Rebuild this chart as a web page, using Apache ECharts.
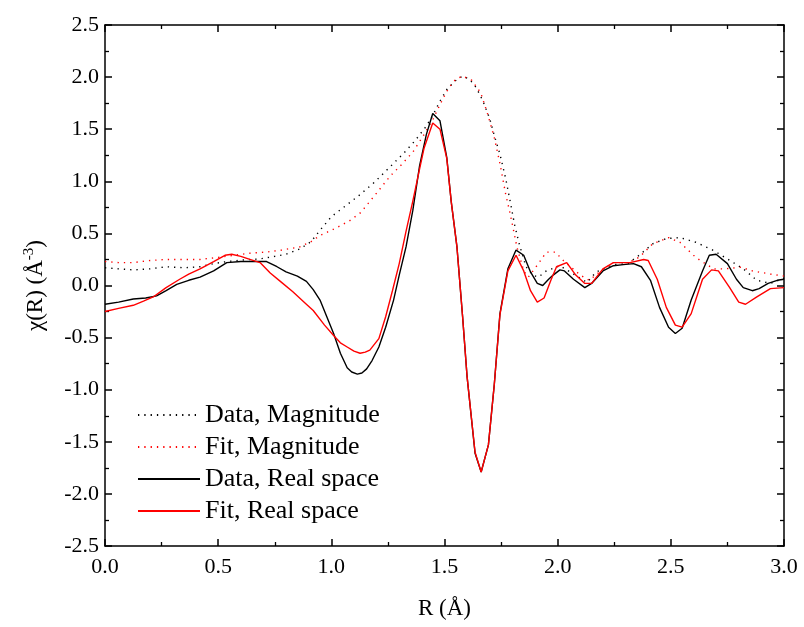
<!DOCTYPE html>
<html><head><meta charset="utf-8">
<script src="https://cdn.jsdelivr.net/npm/echarts@6/dist/echarts.min.js"></script>
<style>html,body{margin:0;padding:0;background:#fff}#c{width:804px;height:627px}</style>
</head><body><div id="c"></div>
<script>
// Data, Magnitude
const dataMagR = [0,0.06,0.125,0.2,0.27,0.35,0.42,0.48,0.54,0.61,0.685,0.75,0.80,0.86,0.91,0.95,1.00,1.06,1.12,1.19,1.26,1.32,1.37,1.42,1.45,1.48,1.51,1.545,1.58,1.61,1.64,1.67,1.70,1.72,1.745,1.77,1.79,1.81,1.83,1.86,1.89,1.915,1.95,2.01,2.07,2.13,2.17,2.246,2.31,2.36,2.42,2.48,2.54,2.61,2.69,2.75,2.82,2.88,2.94,3.0];
const dataMagV = [0.17,0.16,0.15,0.16,0.18,0.17,0.18,0.21,0.23,0.245,0.255,0.28,0.30,0.35,0.42,0.53,0.66,0.76,0.86,0.99,1.14,1.27,1.39,1.53,1.64,1.77,1.88,1.96,2.01,1.98,1.90,1.77,1.60,1.44,1.26,1.03,0.81,0.58,0.40,0.18,0.10,0.08,0.14,0.19,0.11,0.03,0.13,0.20,0.21,0.29,0.40,0.45,0.46,0.415,0.335,0.255,0.16,0.05,0.02,0.07];
// Fit, Magnitude
const fitMagR = [0,0.06,0.125,0.2,0.27,0.35,0.42,0.5,0.57,0.64,0.71,0.78,0.86,0.91,0.95,1.01,1.08,1.13,1.19,1.26,1.31,1.36,1.41,1.45,1.49,1.52,1.55,1.58,1.62,1.66,1.69,1.72,1.745,1.77,1.79,1.82,1.85,1.87,1.915,1.95,1.99,2.025,2.10,2.14,2.19,2.246,2.31,2.36,2.42,2.49,2.54,2.60,2.63,2.69,2.74,2.81,2.86,2.94,3.0];
const fitMagV = [0.23,0.22,0.22,0.24,0.25,0.25,0.25,0.27,0.29,0.31,0.32,0.34,0.37,0.42,0.48,0.54,0.62,0.70,0.86,1.05,1.16,1.28,1.45,1.60,1.78,1.90,1.98,2.01,1.97,1.85,1.65,1.42,1.17,0.88,0.69,0.37,0.14,0.08,0.21,0.32,0.32,0.24,0.10,0.05,0.14,0.22,0.22,0.27,0.40,0.46,0.415,0.29,0.24,0.16,0.16,0.175,0.14,0.11,0.09];
// Data, Real space
const dataReR = [0,0.06,0.125,0.18,0.228,0.27,0.317,0.37,0.42,0.48,0.538,0.6,0.66,0.714,0.76,0.80,0.85,0.89,0.92,0.95,0.98,1.01,1.04,1.07,1.09,1.115,1.135,1.156,1.18,1.21,1.24,1.275,1.30,1.33,1.36,1.39,1.42,1.448,1.48,1.51,1.53,1.555,1.58,1.60,1.635,1.662,1.694,1.72,1.745,1.78,1.816,1.85,1.88,1.91,1.934,1.96,1.98,2.01,2.03,2.07,2.12,2.15,2.20,2.246,2.29,2.335,2.37,2.41,2.45,2.49,2.52,2.55,2.59,2.64,2.67,2.70,2.75,2.79,2.82,2.86,2.89,2.93,2.97,3.0];
const dataReV = [-0.18,-0.16,-0.13,-0.12,-0.10,-0.05,0.01,0.05,0.08,0.14,0.22,0.23,0.23,0.23,0.18,0.13,0.09,0.04,-0.04,-0.14,-0.30,-0.46,-0.65,-0.79,-0.83,-0.85,-0.84,-0.80,-0.72,-0.59,-0.40,-0.14,0.10,0.37,0.72,1.15,1.45,1.65,1.58,1.23,0.80,0.37,-0.30,-0.88,-1.61,-1.79,-1.53,-0.95,-0.27,0.16,0.34,0.29,0.13,0.02,0.0,0.06,0.10,0.15,0.14,0.06,-0.02,0.02,0.14,0.19,0.20,0.21,0.18,0.05,-0.21,-0.40,-0.46,-0.41,-0.14,0.14,0.29,0.30,0.21,0.06,-0.02,-0.05,-0.03,0.02,0.05,0.06];
// Fit, Real space
const fitReR = [0,0.06,0.125,0.17,0.213,0.27,0.33,0.37,0.42,0.48,0.53,0.56,0.60,0.64,0.685,0.73,0.78,0.83,0.88,0.92,0.97,1.01,1.04,1.07,1.10,1.127,1.15,1.17,1.21,1.24,1.27,1.30,1.33,1.36,1.39,1.41,1.448,1.48,1.51,1.53,1.555,1.58,1.60,1.635,1.662,1.694,1.72,1.745,1.78,1.816,1.85,1.88,1.91,1.94,1.97,1.995,2.04,2.08,2.12,2.15,2.20,2.246,2.29,2.32,2.38,2.40,2.44,2.48,2.52,2.55,2.59,2.64,2.68,2.71,2.76,2.80,2.83,2.88,2.94,3.0];
const fitReV = [-0.25,-0.22,-0.19,-0.15,-0.11,-0.02,0.06,0.11,0.16,0.23,0.29,0.30,0.28,0.25,0.22,0.12,0.03,-0.06,-0.16,-0.24,-0.38,-0.48,-0.55,-0.59,-0.63,-0.65,-0.64,-0.62,-0.51,-0.30,-0.05,0.21,0.52,0.81,1.12,1.32,1.56,1.50,1.22,0.80,0.37,-0.30,-0.88,-1.60,-1.79,-1.53,-0.95,-0.28,0.14,0.29,0.14,-0.05,-0.16,-0.12,0.05,0.18,0.22,0.10,0.02,0.02,0.16,0.22,0.22,0.22,0.25,0.24,0.06,-0.21,-0.38,-0.40,-0.27,0.06,0.15,0.14,-0.02,-0.16,-0.18,-0.11,-0.03,-0.02];

const seriesNames = ['Data, Magnitude','Fit, Magnitude','Data, Real space','Fit, Real space'];

const zip = (a,b) => a.map((x,i)=>[x,b[i]]);
const font = 'Liberation Serif, Times New Roman, serif';
const dot = [1.3,5];

const chart = echarts.init(document.getElementById('c'), null, {renderer:'canvas'});
const axisCommon = () => ({
  axisLine:{show:true,onZero:false,lineStyle:{color:'#000',width:1.5}},
  axisTick:{show:true,inside:true,length:7,lineStyle:{color:'#000',width:1.5}},
  minorTick:{show:true,splitNumber:2,length:4,lineStyle:{color:'#000',width:1.3}},
  splitLine:{show:false},
  minorSplitLine:{show:false}
});
chart.setOption({
  animation:false,
  backgroundColor:'#fff',
  grid:{left:105,right:20,top:25,bottom:81,containLabel:false},
  legend:{
    orient:'vertical', left:132, top:397, itemWidth:62, itemHeight:14, itemGap:6,
    itemStyle:{opacity:0},
    textStyle:{fontFamily:font,fontSize:26,lineHeight:26,color:'#000'},
    data:seriesNames
  },
  xAxis:[
    Object.assign(axisCommon(),{type:'value',position:'bottom',min:0,max:3,interval:0.5,
      name:'R (Å)',nameLocation:'middle',nameGap:51,
      nameTextStyle:{fontFamily:font,fontSize:23,color:'#000'},
      axisLabel:{fontFamily:font,fontSize:22,color:'#000',margin:10,formatter:v=>v.toFixed(1)}}),
    Object.assign(axisCommon(),{type:'value',position:'top',min:0,max:3,interval:0.5,axisLabel:{show:false}})
  ],
  yAxis:[
    Object.assign(axisCommon(),{type:'value',position:'left',min:-2.5,max:2.5,interval:0.5,
      name:'χ(R) (Å{s|-3})',nameLocation:'middle',nameGap:56,nameRotate:90,
      nameTextStyle:{fontFamily:font,fontSize:23,color:'#000',rich:{s:{fontFamily:font,fontSize:15,verticalAlign:'top',padding:[0,0,12,0]}}},
      axisLabel:{fontFamily:font,fontSize:22,color:'#000',margin:6,formatter:v=>v.toFixed(1)}}),
    Object.assign(axisCommon(),{type:'value',position:'right',min:-2.5,max:2.5,interval:0.5,axisLabel:{show:false}})
  ],
  series:[
    {name:seriesNames[0],type:'line',data:zip(dataMagR,dataMagV),showSymbol:false,symbol:'none',
      lineStyle:{color:'#000',width:1.4,type:dot},itemStyle:{color:'#000'}},
    {name:seriesNames[1],type:'line',data:zip(fitMagR,fitMagV),showSymbol:false,symbol:'none',
      lineStyle:{color:'#ff0000',width:1.4,type:dot},itemStyle:{color:'#ff0000'}},
    {name:seriesNames[2],type:'line',data:zip(dataReR,dataReV),showSymbol:false,symbol:'none',
      lineStyle:{color:'#000',width:1.4},itemStyle:{color:'#000'}},
    {name:seriesNames[3],type:'line',data:zip(fitReR,fitReV),showSymbol:false,symbol:'none',
      lineStyle:{color:'#ff0000',width:1.4},itemStyle:{color:'#ff0000'}}
  ]
});
</script></body></html>
